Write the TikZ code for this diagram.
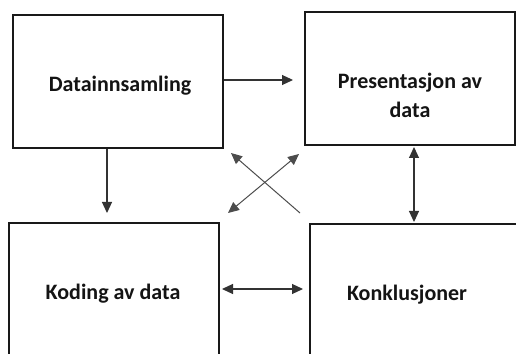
\documentclass[tikz,border=0pt]{standalone}
\usepackage{fontspec}
\setmainfont{Carlito}
\usetikzlibrary{arrows.meta}
\begin{document}
\begin{tikzpicture}[x=1pt,y=1pt,
  boxstyle/.style={draw=black!90, line width=1.3pt, fill=white, inner sep=0pt},
  labelstyle/.style={font=\fontsize{22}{29}\selectfont\bfseries, inner sep=0pt, align=center, text=black!92},
  tip/.style={Triangle[length=11pt,width=10pt]},
  arr/.style={draw=black!80, line width=1.1pt, -{Triangle[length=11pt,width=10pt]}},
  darr/.style={draw=black!80, line width=1.1pt, {Triangle[length=11pt,width=10pt]}-{Triangle[length=11pt,width=10pt]}},
  xline/.style={draw=black!70, line width=1pt}
]
\useasboundingbox (0,0) rectangle (516,353);
\clip (0,0) rectangle (516,353);
% boxes (y = 353 - image y)
\node[boxstyle, minimum width=210pt, minimum height=133pt] (b1) at (118,271.5) {};
\node[boxstyle, minimum width=210pt, minimum height=133pt] (b2) at (410,274.5) {};
\node[boxstyle, minimum width=210pt, minimum height=140pt] (b3) at (114,60) {};
\node[boxstyle, minimum width=210pt, minimum height=140pt] (b4) at (415,59) {};
% labels
\node[labelstyle] (t1) at (120,267.5) {Datainnsamling};
\node[labelstyle] (t2) at (410,257.5) {Presentasjon av\\data};
\node[labelstyle] (t3) at (113,59) {Koding av data};
\node[labelstyle] (t4) at (407,58.5) {Konklusjoner};
% connector end points
\coordinate (e1) at (293,273);
\coordinate (e2) at (107,140);
\coordinate (p3a) at (414,206);
\coordinate (p3b) at (414,131);
\coordinate (p4a) at (222,64);
\coordinate (p4b) at (303,64);
\coordinate (x1a) at (300,140);
\coordinate (x1b) at (231,200);
\coordinate (x2a) at (228,140);
\coordinate (x2b) at (299,199);
% connectors
\draw[arr] (b1.east |- e1) -- (e1);
\draw[arr] (b1.south -| e2) -- (e2);
\draw[darr] (p3a) -- (p3b);
\draw[darr] (p4a) -- (p4b);
\draw[xline, -{Triangle[length=11pt,width=10pt]}] (x1a) -- (x1b);
\draw[xline, {Triangle[length=11pt,width=10pt]}-{Triangle[length=11pt,width=10pt]}] (x2a) -- (x2b);
\end{tikzpicture}
\end{document}
